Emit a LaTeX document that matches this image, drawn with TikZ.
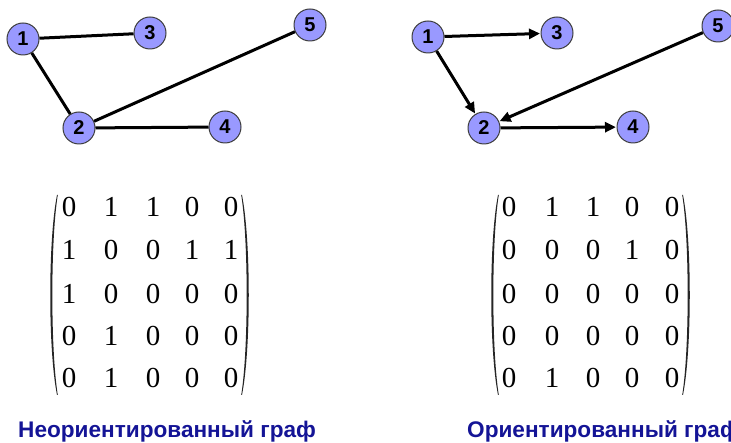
\documentclass[tikz,border=0pt]{standalone}
\usepackage{fontspec}
\setmainfont{Liberation Serif}
\newfontfamily\arialf{Liberation Sans}
\usetikzlibrary{arrows.meta}
\definecolor{nodefill}{RGB}{153,153,255}
\definecolor{nodeedge}{RGB}{60,60,60}
\definecolor{labelblue}{RGB}{20,20,150}
\tikzset{
  vtx/.style={circle, minimum size=32pt, inner sep=0pt, fill=nodefill, draw=nodeedge, line width=1pt,
    font=\arialf\bfseries\fontsize{20}{20}\selectfont},
  edge/.style={line width=3pt, black},
  arc/.style={line width=3pt, black, -{Triangle[length=11pt,width=10pt]}, shorten >=0.5pt},
  entry/.style={inner sep=0pt, font=\fontsize{29}{29}\selectfont},
  caption/.style={anchor=base west, inner sep=0pt, text=labelblue, font=\arialf\bfseries\fontsize{22.6}{24}\selectfont}
}
\newcommand{\lparen}[3]{% x top, y top, y bottom
  \fill[black!85] (#1,#2) .. controls (#1-9,#2+45) and (#1-9,#3-45) .. (#1,#3)
    -- (#1+0.8,#3) .. controls (#1-6.5,#3-45) and (#1-6.5,#2+45) .. (#1+0.8,#2) -- cycle;}
\newcommand{\rparen}[3]{%
  \fill[black!85] (#1,#2) .. controls (#1+9,#2+45) and (#1+9,#3-45) .. (#1,#3)
    -- (#1-0.8,#3) .. controls (#1+6.5,#3-45) and (#1+6.5,#2+45) .. (#1-0.8,#2) -- cycle;}
\begin{document}
\begin{tikzpicture}[x=1pt,y=-1pt]
\useasboundingbox (0,0) rectangle (731,443);
% ---------- left graph ----------
\node[vtx] (a1) at (23,39) {1};
\node[vtx] (a3) at (150,33) {3};
\node[vtx] (a5) at (310,25) {5};
\node[vtx] (a2) at (79,128) {2};
\node[vtx] (a4) at (225,127) {4};
\draw[edge] (a1) -- (a3);
\draw[edge] (a1) -- (a2);
\draw[edge] (a2) -- (a5);
\draw[edge] (a2) -- (a4);
% ---------- right graph ----------
\node[vtx] (b1) at (428,37) {1};
\node[vtx] (b3) at (557,33) {3};
\node[vtx] (b5) at (718,26) {5};
\node[vtx] (b2) at (484,128) {2};
\node[vtx] (b4) at (633,127) {4};
\draw[arc] (b1) -- (b3);
\draw[arc] (b1) -- (b2);
\draw[arc] (b5) -- (b2);
\draw[arc] (b2) -- (b4);
% ---------- left matrix ----------
\foreach \r/\y in {1/207,2/250,3/294,4/336,5/378}{
  \foreach \c/\x in {1/69,2/111,3/153,4/192,5/231}{
    \coordinate (lm\r\c) at (\x,\y);
  }
}
\foreach \r/\vals in {1/{0,1,1,0,0},2/{1,0,0,1,1},3/{1,0,0,0,0},4/{0,1,0,0,0},5/{0,1,0,0,0}}{
  \foreach \v [count=\c] in \vals {
    \node[entry] (lmn\r\c) at (lm\r\c) {\v};
  }
}
\lparen{57}{195}{395}
\rparen{242}{195}{395}
% ---------- right matrix ----------
\foreach \r/\y in {1/207,2/250,3/294,4/336,5/378}{
  \foreach \c/\x in {1/509,2/552,3/593,4/632,5/672}{
    \coordinate (rm\r\c) at (\x,\y);
  }
}
\foreach \r/\vals in {1/{0,1,1,0,0},2/{0,0,0,1,0},3/{0,0,0,0,0},4/{0,0,0,0,0},5/{0,1,0,0,0}}{
  \foreach \v [count=\c] in \vals {
    \node[entry] (rmn\r\c) at (rm\r\c) {\v};
  }
}
\lparen{498}{195}{395}
\rparen{683}{195}{395}
% ---------- captions ----------
\node[caption] (capL) at (18,437) {Неориентированный граф};
\node[caption] (capR) at (467,437) {Ориентированный граф};
\end{tikzpicture}
\end{document}
